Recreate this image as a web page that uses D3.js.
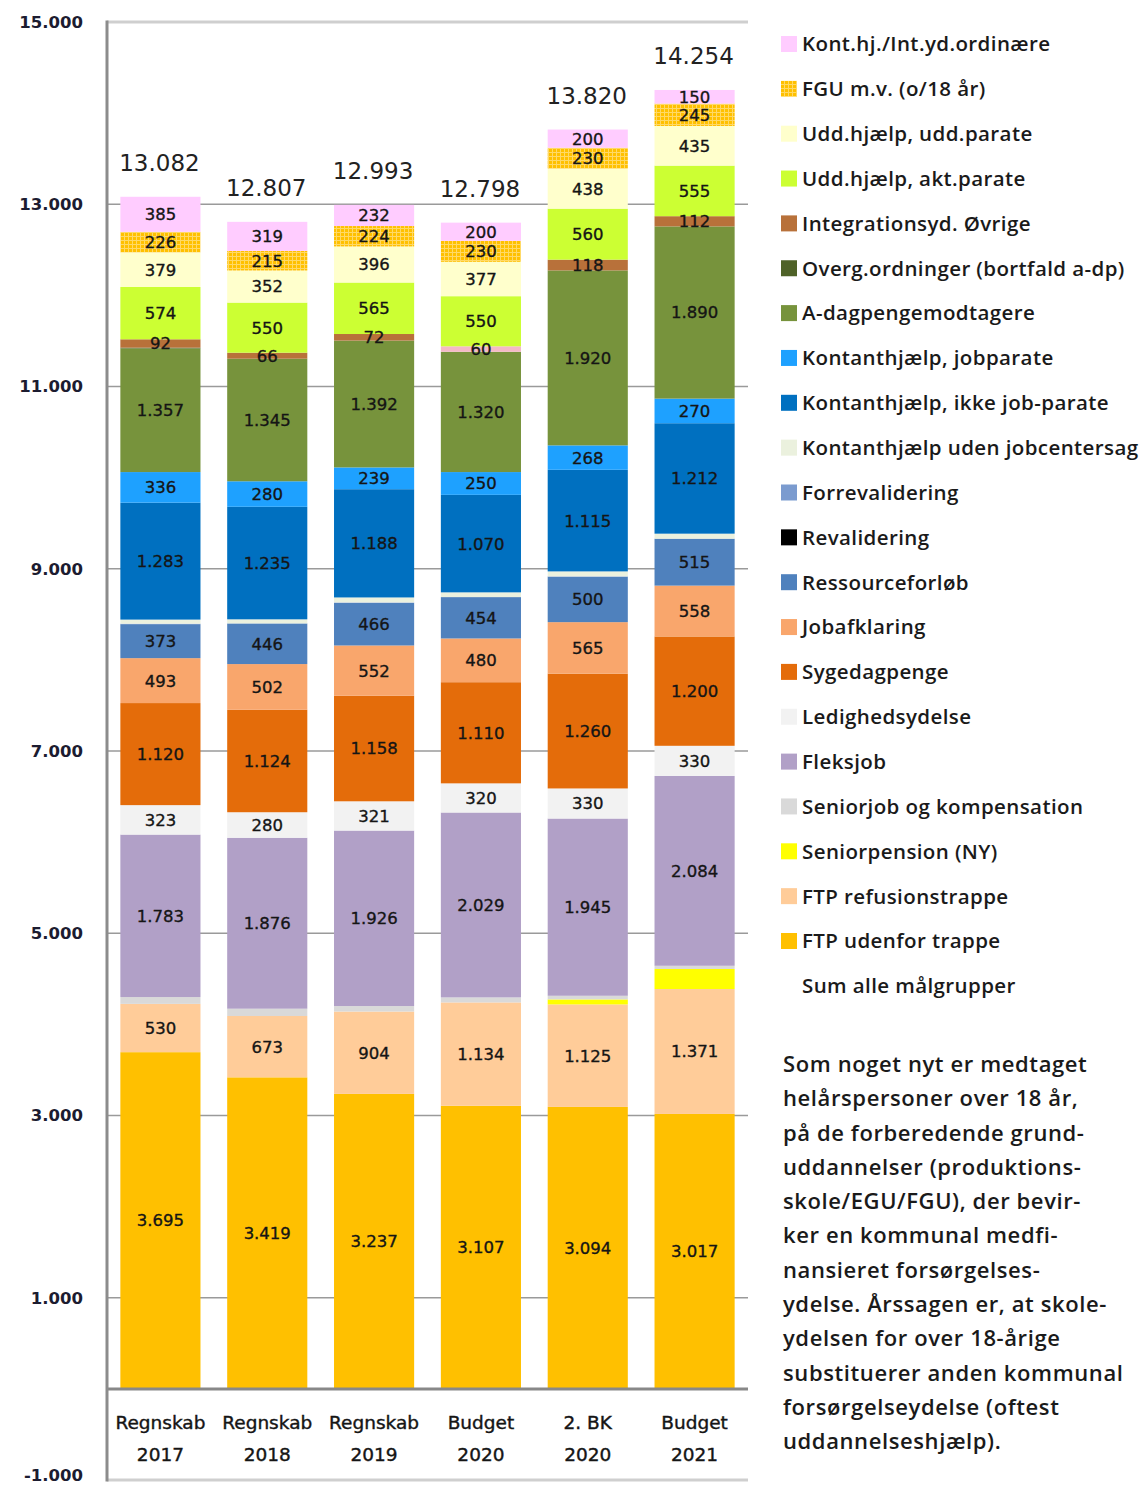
<!DOCTYPE html>
<html><head><meta charset="utf-8">
<script src="https://cdn.jsdelivr.net/npm/d3@7"></script>
<style>body{margin:0;background:#fff} svg{display:block}</style>
</head><body>
<svg id="chart" width="1141" height="1487"></svg>
<script>
// ---- data ----
const categories = ["Regnskab 2017","Regnskab 2018","Regnskab 2019","Budget 2020","2. BK 2020","Budget 2021"];
const categoryLines = [["Regnskab","2017"],["Regnskab","2018"],["Regnskab","2019"],["Budget","2020"],["2. BK","2020"],["Budget","2021"]];
const ftpUdenfor        = [3695,3419,3237,3107,3094,3017];
const ftpRefusion       = [530,673,904,1134,1125,1371];
const seniorpension     = [0,0,0,0,55,220];
const seniorjob         = [75,80,60,55,40,35];
const fleksjob          = [1783,1876,1926,2029,1945,2084];
const ledighedsydelse   = [323,280,321,320,330,330];
const sygedagpenge      = [1120,1124,1158,1110,1260,1200];
const jobafklaring      = [493,502,552,480,565,558];
const ressourceforloeb  = [373,446,466,454,500,515];
const revalidering      = [0,0,0,0,0,0];
const forrevalidering   = [5,0,6,0,2,0];
const khUdenJobcenter   = [45,45,55,52,55,55];
const khIkkeJobparate   = [1283,1235,1188,1070,1115,1212];
const khJobparate       = [336,280,239,250,268,270];
const aDagpenge         = [1357,1345,1392,1320,1920,1890];
const overgOrdninger    = [8,0,0,0,0,0];
const integrationsyd    = [92,66,72,60,118,112];
const uddAktParate      = [574,550,565,550,560,555];
const uddUddParate      = [379,352,396,377,438,435];
const fguOver18         = [226,215,224,230,230,245];
const kontHjOrdinaere   = [385,319,232,200,200,150];
const totals            = [13082,12807,12993,12798,13820,14254];
const yTicks = [-1000,1000,3000,5000,7000,9000,11000,13000,15000];

const noteLines = [
  "Som noget nyt er medtaget",
  "helårspersoner  over 18 år,",
  "på de forberedende grund-",
  "uddannelser (produktions-",
  "skole/EGU/FGU), der bevir-",
  "ker en kommunal  medfi-",
  "nansieret forsørgelses-",
  "ydelse. Årssagen er, at skole-",
  "ydelsen for over 18-årige",
  "substituerer anden kommunal",
  "forsørgelseydelse (oftest",
  "uddannelseshjælp)."
];

// series in stacking order (bottom -> top)
const series = [
  {name:"FTP udenfor trappe", values:ftpUdenfor, color:"#ffc000", label:true},
  {name:"FTP refusionstrappe", values:ftpRefusion, color:"#ffcc99", label:true},
  {name:"Seniorpension (NY)", values:seniorpension, color:"#ffff00", label:false},
  {name:"Seniorjob og kompensation", values:seniorjob, color:"#d9d9d9", label:false},
  {name:"Fleksjob", values:fleksjob, color:"#b1a0c7", label:true},
  {name:"Ledighedsydelse", values:ledighedsydelse, color:"#f2f2f2", label:true},
  {name:"Sygedagpenge", values:sygedagpenge, color:"#e46c0a", label:true},
  {name:"Jobafklaring", values:jobafklaring, color:"#f9a66c", label:true},
  {name:"Ressourceforløb", values:ressourceforloeb, color:"#4f81bd", label:true},
  {name:"Revalidering", values:revalidering, color:"#000000", label:false},
  {name:"Forrevalidering", values:forrevalidering, color:"#7b9bcf", label:false},
  {name:"Kontanthjælp uden jobcentersag", values:khUdenJobcenter, color:"#ebf1de", label:false},
  {name:"Kontanthjælp, ikke job-parate", values:khIkkeJobparate, color:"#0070c0", label:true},
  {name:"Kontanthjælp, jobparate", values:khJobparate, color:"#1ea1ff", label:true},
  {name:"A-dagpengemodtagere", values:aDagpenge, color:"#77933c", label:true},
  {name:"Overg.ordninger (bortfald a-dp)", values:overgOrdninger, color:"#4f6228", label:false},
  {name:"Integrationsyd. Øvrige", values:integrationsyd, color:"#b8713a", label:true},
  {name:"Udd.hjælp, akt.parate", values:uddAktParate, color:"#ccff33", label:true},
  {name:"Udd.hjælp, udd.parate", values:uddUddParate, color:"#ffffcc", label:true},
  {name:"FGU m.v. (o/18 år)", values:fguOver18, color:"url(#fguPattern)", label:true},
  {name:"Kont.hj./Int.yd.ordinære", values:kontHjOrdinaere, color:"#ffccff", label:true}
];
// single-point colour override seen in the picture
const pointColor = {"Integrationsyd. Øvrige|Budget 2020":"#f4b9c6"};

// ---- setup ----
const locale = d3.formatLocale({decimal:",", thousands:".", grouping:[3], currency:["","kr"], minus:"-"});
const fmt = locale.format(",d");

const svg = d3.select("#chart");
const defs = svg.append("defs");
const pat = defs.append("pattern").attr("id","fguPattern").attr("patternUnits","userSpaceOnUse")
  .attr("width",4).attr("height",4);
pat.append("rect").attr("width",4).attr("height",4).attr("fill","#ffc000");
pat.append("path").attr("d","M0,0.5H4M0.5,0V4").attr("stroke","#ffd966").attr("stroke-width",1);

const plot = {left:107, right:748, top:22, bottom:1480};
const x = d3.scaleBand().domain(categories).range([plot.left, plot.right]).paddingInner(0.25).paddingOuter(0.125);
const y = d3.scaleLinear().domain([-1000,15000]).range([plot.bottom, plot.top]);

// gridlines
const grid = svg.append("g");
grid.selectAll("line").data(yTicks).join("line")
  .attr("x1",plot.left).attr("x2",plot.right)
  .attr("y1",d=>y(d)).attr("y2",d=>y(d))
  .attr("stroke",d=> (d===15000||d===-1000) ? "#cfcfcf" : "#9a9a9a")
  .attr("stroke-width",d=> (d===15000||d===-1000) ? 3 : 1.5);

// stacked bars
const rows = categories.map((c,i)=>{ const o={cat:c}; series.forEach(s=>o[s.name]=s.values[i]); return o; });
const stack = d3.stack().keys(series.map(s=>s.name));
const stacked = stack(rows);

const barsG = svg.append("g");
stacked.forEach((layer,li)=>{
  const s = series[li];
  barsG.append("g").selectAll("rect").data(layer).join("rect")
    .attr("x",d=>x(d.data.cat)).attr("width",x.bandwidth())
    .attr("y",d=>y(d[1])).attr("height",d=>Math.max(0,y(d[0])-y(d[1])))
    .attr("fill",d=>pointColor[s.name+"|"+d.data.cat] || s.color);
});

// labels inside segments
const labG = svg.append("g").attr("font-family","DejaVu Sans, sans-serif").attr("font-size",16.5)
  .attr("fill","#151515").attr("stroke","#151515").attr("stroke-width",0.35).attr("text-anchor","middle");
stacked.forEach((layer,li)=>{
  const s = series[li];
  if(!s.label) return;
  labG.append("g").selectAll("text").data(layer.filter(d=>d[1]-d[0]>0)).join("text")
    .attr("x",d=>x(d.data.cat)+x.bandwidth()/2)
    .attr("y",d=>(y(d[0])+y(d[1]))/2)
    .attr("dy","0.36em")
    .text(d=>fmt(d[1]-d[0]));
});

// totals
svg.append("g").selectAll("text").data(categories).join("text")
  .attr("x",c=>x(c)+x.bandwidth()/2 - 1)
  .attr("y",(c,i)=>y(totals[i])-26)
  .attr("text-anchor","middle").attr("font-family","DejaVu Sans, sans-serif").attr("font-size",23)
  .attr("fill","#222").text((c,i)=>fmt(totals[i]));

// zero line and left axis
svg.append("line").attr("x1",plot.left).attr("x2",plot.right).attr("y1",y(0)).attr("y2",y(0))
  .attr("stroke","#888").attr("stroke-width",3);
svg.append("line").attr("x1",plot.left).attr("x2",plot.left).attr("y1",plot.top-1.5).attr("y2",plot.bottom+1.5)
  .attr("stroke","#8c8c8c").attr("stroke-width",3);

// y axis tick labels
const yAxis = d3.axisLeft(y).tickValues(yTicks).tickFormat(fmt).tickSize(0).tickPadding(24);
const ya = svg.append("g").attr("transform",`translate(${plot.left},0)`).call(yAxis);
ya.select(".domain").remove();
ya.selectAll("text").attr("font-family","DejaVu Sans, sans-serif").attr("font-size",16.5)
  .attr("font-weight","bold").attr("fill","#1c1c30")
  .attr("dy",d=> d===-1000 ? "0.05em" : "0.32em");

// x category labels
const xl = svg.append("g").attr("font-family","DejaVu Sans, sans-serif").attr("font-size",18.5)
  .attr("fill","#151515").attr("stroke","#151515").attr("stroke-width",0.4).attr("text-anchor","middle");
categories.forEach((c,i)=>{
  categoryLines[i].forEach((t,j)=>{
    xl.append("text").attr("x",x(c)+x.bandwidth()/2).attr("y",y(0)+33+j*32).attr("dy","0.36em").text(t);
  });
});

// legend (top of stack first)
const leg = svg.append("g").attr("font-family","Open Sans, sans-serif").attr("font-size",20.5)
  .attr("font-weight",600).attr("letter-spacing",0.4).attr("fill","#1a1a1a");
const legItems = series.slice().reverse().concat([{name:"Sum alle målgrupper", color:null}]);
legItems.forEach((s,i)=>{
  const cy = 44 + i*44.85;
  if(s.color) leg.append("rect").attr("x",781).attr("y",cy-8).attr("width",16).attr("height",16).attr("fill",s.color);
  leg.append("text").attr("x",802).attr("y",cy).attr("dy","0.36em").text(s.name);
});

// note text
const note = svg.append("g").attr("font-family","Open Sans, sans-serif").attr("font-size",22)
  .attr("font-weight",600).attr("letter-spacing",0.6).attr("fill","#1a1a1a");
noteLines.forEach((t,i)=>{
  note.append("text").attr("x",783).attr("y",1064+i*34.3).attr("dy","0.36em").text(t);
});
</script>
</body></html>
